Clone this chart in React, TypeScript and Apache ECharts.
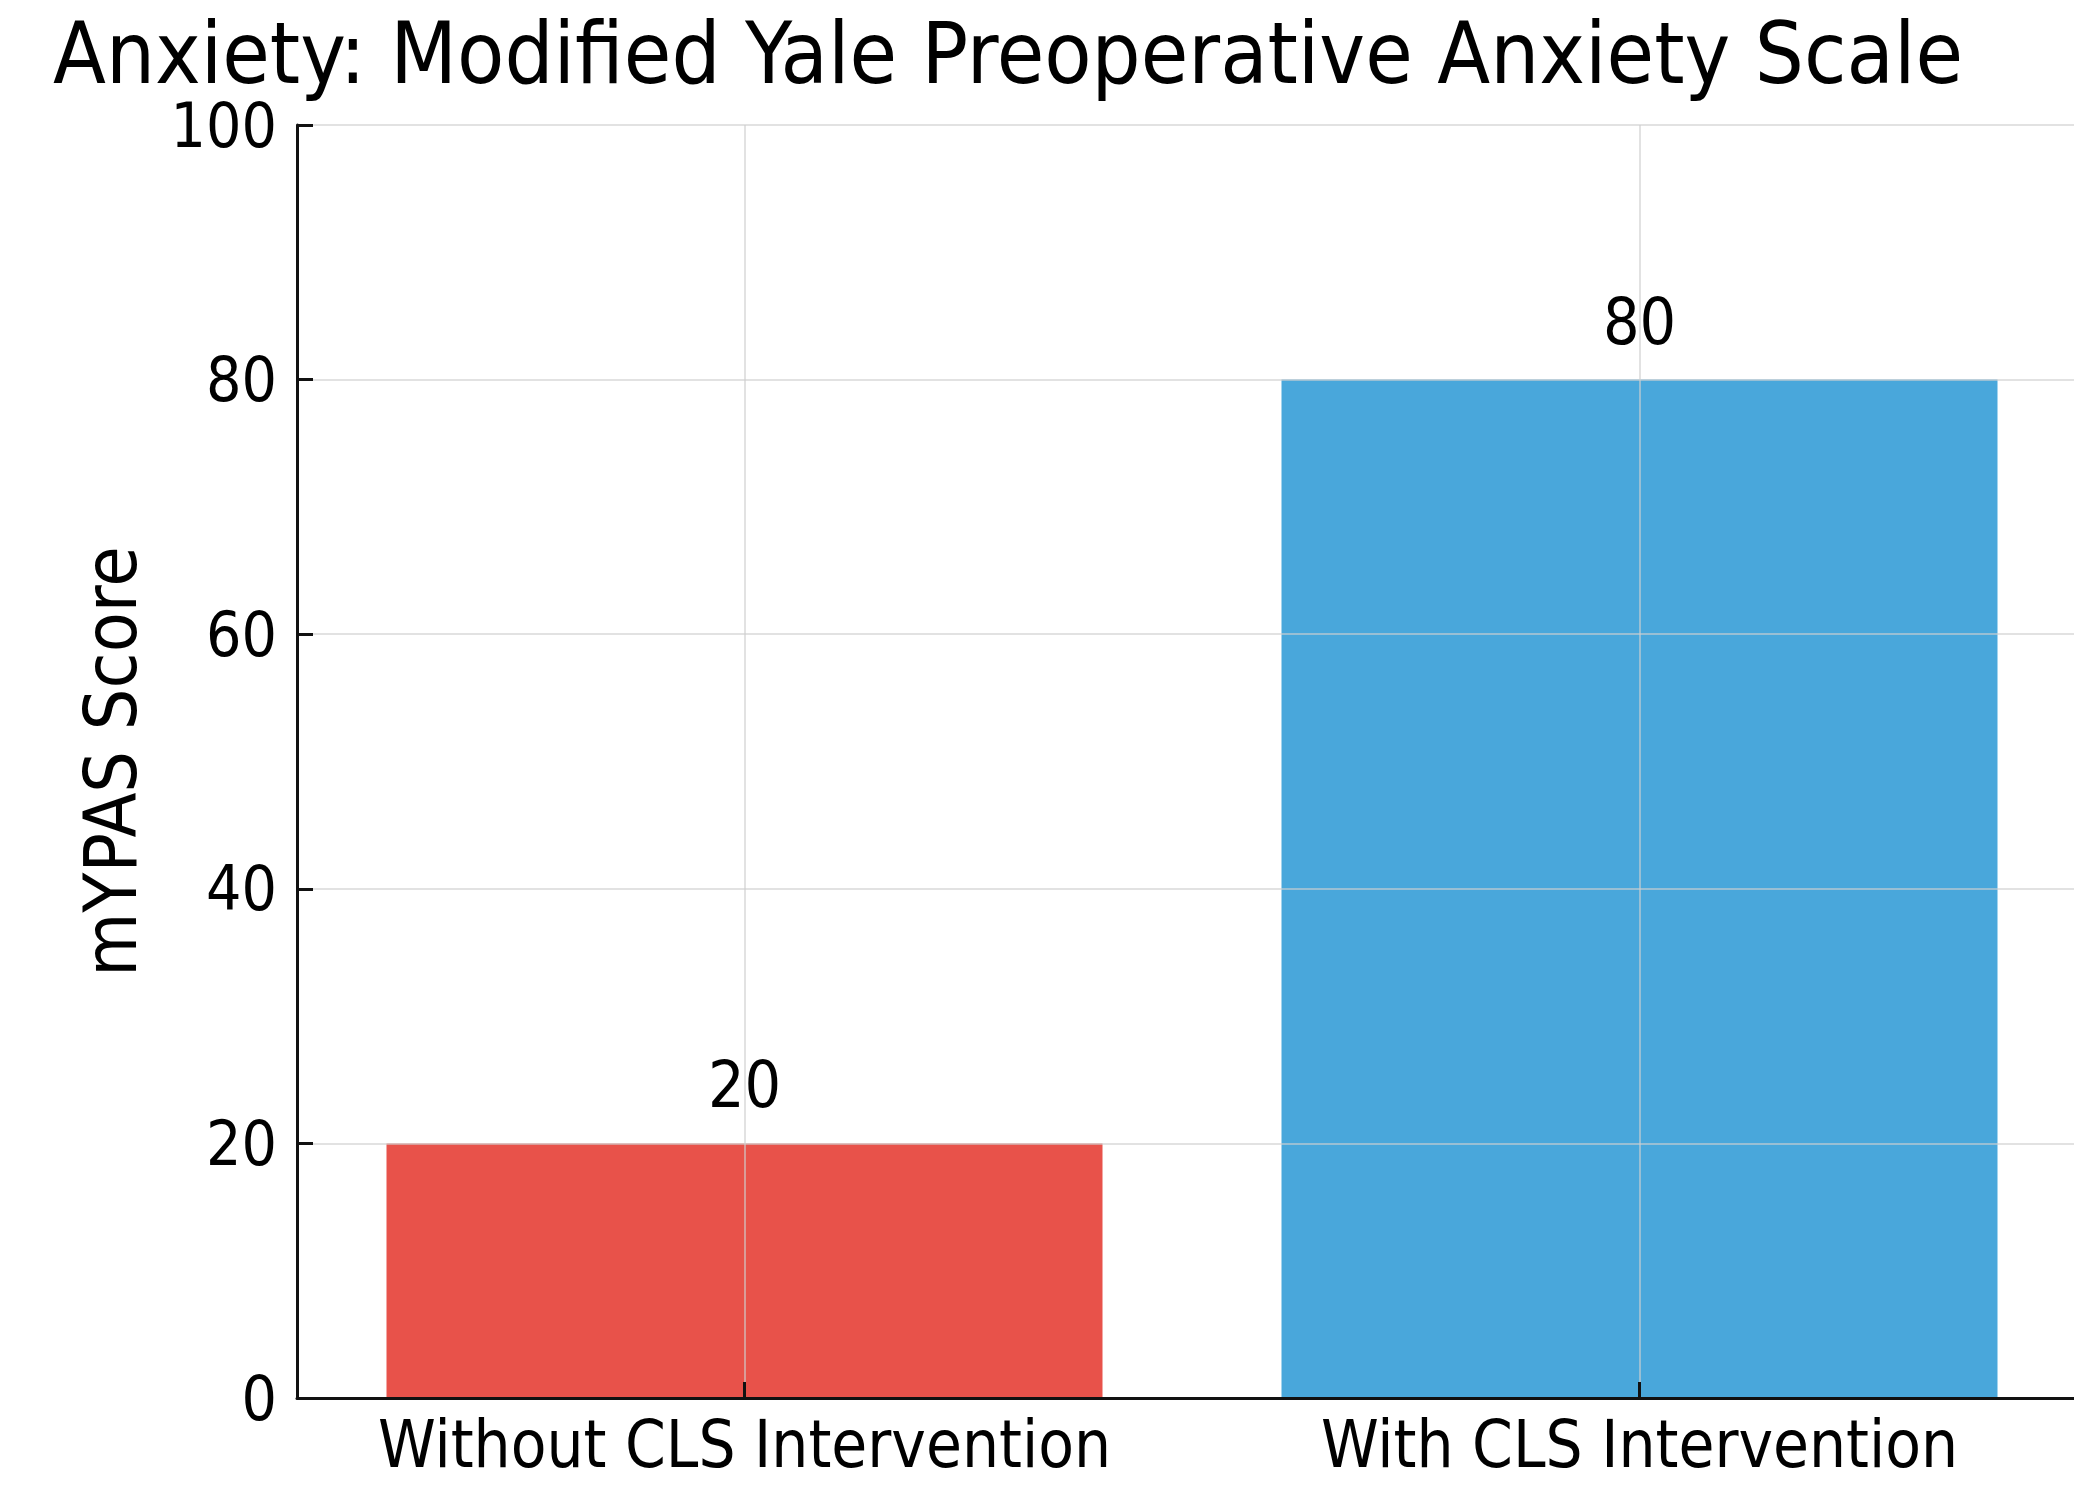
import React, { useEffect, useRef } from "react";
import * as echarts from "echarts";

const titleText = "Anxiety: Modified Yale Preoperative Anxiety Scale";
const categories = ["Without CLS Intervention", "With CLS Intervention"];
const scores = [20, 80];
const barColors = ["#E8524A", "#49A7DB"];
const yAxisName = "mYPAS Score";
const yMin = 0;
const yMax = 100;
const yInterval = 20;

const FONT = "'DejaVu Sans Condensed', 'DejaVu Sans', sans-serif";
const GRID_LINE = { color: "#cfcfcf", width: 2, opacity: 0.6 };

export default function App() {
  const ref = useRef<HTMLDivElement>(null);
  useEffect(() => {
    document.body.style.margin = "0";
    const chart = echarts.init(ref.current!, null, { renderer: "svg" });
    chart.setOption({
      animation: false,
      backgroundColor: "#ffffff",
      title: {
        text: titleText,
        left: 48,
        top: 5,
        textStyle: { fontFamily: FONT, fontSize: 86, fontWeight: "normal", color: "#000" },
      },
      grid: {
        left: 297,
        width: 1790,
        top: 125,
        bottom: 87,
        containLabel: false,
        outerBoundsMode: "none",
      },
      xAxis: {
        type: "category",
        data: categories,
        z: 5,
        axisLine: { lineStyle: { color: "#111", width: 3 } },
        axisTick: { show: true, inside: true, alignWithLabel: true, length: 16, lineStyle: { color: "#111", width: 3 } },
        axisLabel: { interval: 0, fontFamily: FONT, fontSize: 65, color: "#000", margin: 14 },
        splitLine: { show: true, alignWithLabel: true, lineStyle: GRID_LINE },
      },
      yAxis: {
        type: "value",
        min: yMin,
        max: yMax,
        interval: yInterval,
        z: 5,
        name: yAxisName,
        nameLocation: "middle",
        nameGap: 150,
        nameTextStyle: { fontFamily: FONT, fontSize: 73, color: "#000" },
        axisLine: { show: true, lineStyle: { color: "#111", width: 3 } },
        axisTick: { show: true, inside: true, length: 16, lineStyle: { color: "#111", width: 3 } },
        axisLabel: { fontFamily: FONT, fontSize: 62, color: "#000", margin: 20 },
        splitLine: { show: true, lineStyle: GRID_LINE },
      },
      series: [
        {
          type: "bar",
          barWidth: "80%",
          data: scores.map((v, i) => ({ value: v, itemStyle: { color: barColors[i] } })),
          label: {
            show: true,
            position: "top",
            distance: 26,
            fontFamily: FONT,
            fontSize: 64,
            color: "#000",
          },
          z: 1,
        },
      ],
    });
    return () => chart.dispose();
  }, []);
  return <div ref={ref} style={{ position: "fixed", left: 0, top: 0, width: 2074, height: 1485 }} />;
}
